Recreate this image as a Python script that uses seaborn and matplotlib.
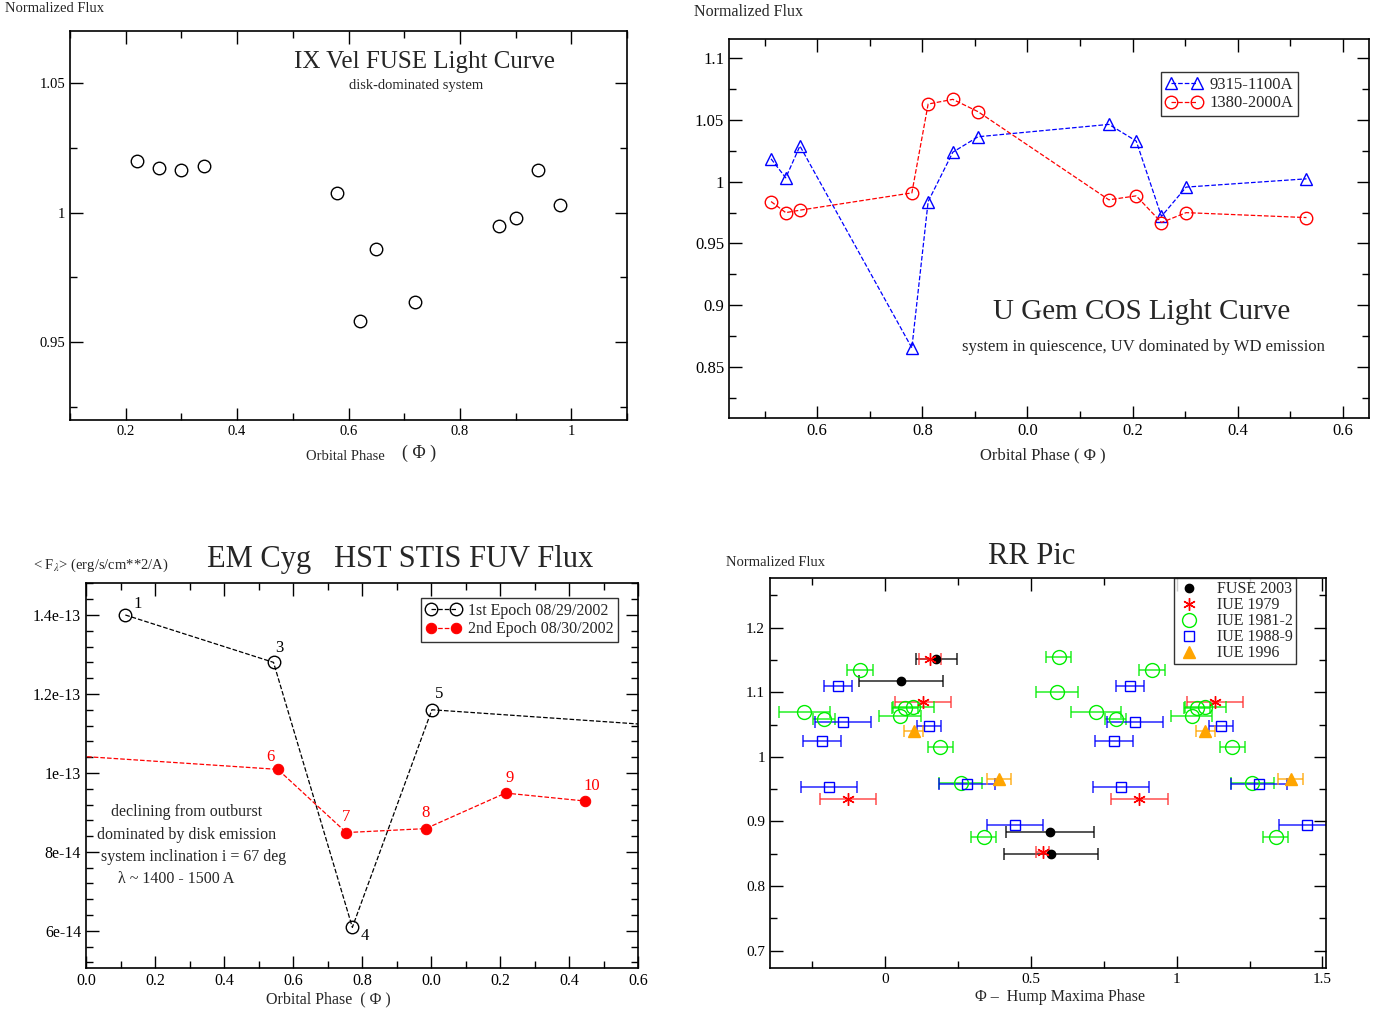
import matplotlib
matplotlib.use("Agg")
import matplotlib.pyplot as plt
from matplotlib.ticker import MultipleLocator, FixedLocator, FormatStrFormatter
import seaborn as sns

# ---------------- data ----------------
# IX Vel FUSE light curve
ixvel_phase = [0.22, 0.26, 0.30, 0.34, 0.58, 0.62, 0.65, 0.72, 0.87, 0.90, 0.94, 0.98]
ixvel_flux = [1.020, 1.017, 1.0165, 1.018, 1.0075, 0.958, 0.986, 0.9655, 0.995, 0.998, 1.0165, 1.003]

# U Gem COS light curve (phase unwrapped past 1.0)
ugem_phase = [0.512, 0.540, 0.567, 0.780, 0.811, 0.858, 0.906, 1.155, 1.207, 1.255, 1.302, 1.531]
ugem_blue = [1.0186, 1.0032, 1.029, 0.8654, 0.984, 1.024, 1.0365, 1.0465, 1.033, 0.972, 0.9957, 1.0024]
ugem_red = [0.984, 0.975, 0.977, 0.991, 1.063, 1.0668, 1.0568, 0.9854, 0.9886, 0.967, 0.975, 0.971]
ugem_ticks = [0.6, 0.8, 1.0, 1.2, 1.4, 1.6]
ugem_ticklabels = ["0.6", "0.8", "0.0", "0.2", "0.4", "0.6"]

# EM Cyg STIS flux
em1_phase = [0.114, 0.5435, 0.772, 1.0026, 1.75]
em1_flux = [1.400e-13, 1.280e-13, 6.09e-14, 1.160e-13, 1.115e-13]
em1_labels = ["1", "3", "4", "5", ""]
em2_phase = [-0.15, 0.556, 0.7545, 0.9847, 1.216, 1.445]
em2_flux = [1.050e-13, 1.009e-13, 8.49e-14, 8.59e-14, 9.49e-14, 9.29e-14]
em2_labels = ["", "6", "7", "8", "9", "10"]
em_ticks = [0.0, 0.2, 0.4, 0.6, 0.8, 1.0, 1.2, 1.4, 1.6]
em_ticklabels = ["0.0", "0.2", "0.4", "0.6", "0.8", "0.0", "0.2", "0.4", "0.6"]

# RR Pic hump maxima
fuse_x = [0.176, 0.057, 0.566, 0.570]
fuse_y = [1.151, 1.117, 0.8835, 0.849]
fuse_err = [0.070, 0.144, 0.150, 0.162]

iue79_x = [0.155, 0.131, -0.127, 0.541, 1.131, 0.873]
iue79_y = [1.151, 1.085, 0.934, 0.852, 1.085, 0.934]
iue79_err = [0.037, 0.096, 0.096, 0.021, 0.096, 0.096]

iue81_x = [-0.084, -0.275, -0.209, 0.069, 0.098, 0.052, 0.191, 0.260, 0.339, 0.596, 0.591,
           0.916, 0.725, 0.791, 1.069, 1.098, 1.052, 1.191, 1.260, 1.339]
iue81_y = [1.135, 1.0697, 1.058, 1.0749, 1.0774, 1.063, 1.0155, 0.9588, 0.876, 1.155, 1.100,
           1.135, 1.0697, 1.058, 1.0749, 1.0774, 1.063, 1.0155, 0.9588, 0.876]
iue81_err = [0.044, 0.086, 0.037, 0.045, 0.070, 0.071, 0.042, 0.074, 0.042, 0.042, 0.072,
             0.044, 0.086, 0.037, 0.045, 0.070, 0.071, 0.042, 0.074, 0.042]

iue88_x = [-0.159, -0.143, -0.214, -0.191, 0.151, 0.282, 0.447,
           0.841, 0.857, 0.786, 0.809, 1.151, 1.282, 1.447]
iue88_y = [1.109, 1.0537, 1.0248, 0.9536, 1.048, 0.958, 0.894,
           1.109, 1.0537, 1.0248, 0.9536, 1.048, 0.958, 0.894]
iue88_err = [0.048, 0.097, 0.065, 0.095, 0.041, 0.095, 0.096,
             0.048, 0.097, 0.065, 0.095, 0.041, 0.095, 0.096]

iue96_x = [0.099, 0.391, 1.099, 1.391]
iue96_y = [1.0398, 0.965, 1.0398, 0.965]
iue96_err = [0.032, 0.042, 0.032, 0.042]

# ---------------- style ----------------
sns.set_theme(style="ticks")
plt.rcParams['font.family'] = ['Liberation Serif', 'DejaVu Serif']
plt.rcParams['mathtext.fontset'] = 'stix'
plt.rcParams['axes.edgecolor'] = 'black'
plt.rcParams['axes.linewidth'] = 1.2
plt.rcParams['xtick.color'] = 'black'
plt.rcParams['ytick.color'] = 'black'

fig = plt.figure(figsize=(13.81, 10.10), dpi=100)
W, H = 1381.0, 1010.0


def add_axes(left, top, right, bottom):
    return fig.add_axes([left / W, 1 - bottom / H, (right - left) / W, (bottom - top) / H])


def style_ticks(ax, size):
    ax.tick_params(which='both', direction='in', top=True, right=True, colors='black',
                   labelsize=size, width=1.0)
    ax.tick_params(which='major', length=9, pad=3.5)
    ax.tick_params(which='minor', length=5)


def legend(ax, anchor, size):
    leg = ax.legend(loc='upper right', bbox_to_anchor=anchor, fontsize=size, frameon=True,
                    fancybox=False, borderpad=0.3, handlelength=2.2, handletextpad=0.4,
                    labelspacing=0.15, numpoints=2, borderaxespad=0)
    leg.get_frame().set_edgecolor('black')
    leg.get_frame().set_linewidth(1.0)
    return leg


# ---------------- panel 1: IX Vel ----------------
ax1 = add_axes(70, 31, 627, 420)
sns.lineplot(x=ixvel_phase, y=ixvel_flux, ax=ax1, estimator=None, sort=False,
             linestyle='', marker='o', ms=9, mfc='none', mec='black', mew=1.0)
ax1.set_xlim(0.1, 1.1)
ax1.set_ylim(0.92, 1.07)
ax1.xaxis.set_major_locator(MultipleLocator(0.2))
ax1.xaxis.set_minor_locator(MultipleLocator(0.1))
ax1.yaxis.set_major_locator(MultipleLocator(0.05))
ax1.yaxis.set_minor_locator(MultipleLocator(0.025))
ax1.xaxis.set_major_formatter(FormatStrFormatter('%g'))
ax1.yaxis.set_major_formatter(FormatStrFormatter('%g'))
style_ticks(ax1, 10.5)
ax1.text(0.637, 0.920, "IX Vel FUSE Light Curve", transform=ax1.transAxes,
         ha='center', va='center', fontsize=18)
ax1.text(0.621, 0.859, "disk-dominated system", transform=ax1.transAxes,
         ha='center', va='center', fontsize=10.5)
fig.text(5 / W, 1 - 8 / H, "Normalized Flux", ha='left', va='center', fontsize=10.5)
fig.text(345 / W, 1 - 456 / H, "Orbital Phase", ha='center', va='center', fontsize=10.5)
fig.text(419 / W, 1 - 453 / H, "( Φ )", ha='center', va='center', fontsize=13)

# ---------------- panel 2: U Gem ----------------
ax2 = add_axes(729, 39, 1369, 418)
sns.lineplot(x=ugem_phase, y=ugem_blue, ax=ax2, estimator=None, sort=False,
             color='blue', linestyle='--', lw=0.9, marker='^', ms=9, mfc='none',
             mec='blue', mew=1.0, label='9315-1100A')
sns.lineplot(x=ugem_phase, y=ugem_red, ax=ax2, estimator=None, sort=False,
             color='red', linestyle='--', lw=0.9, marker='o', ms=9, mfc='none',
             mec='red', mew=1.0, label='1380-2000A')
ax2.set_xlim(0.432, 1.650)
ax2.set_ylim(0.8086, 1.1157)
ax2.xaxis.set_major_locator(FixedLocator(ugem_ticks))
ax2.set_xticklabels(ugem_ticklabels)
ax2.xaxis.set_minor_locator(MultipleLocator(0.1))
ax2.yaxis.set_major_locator(MultipleLocator(0.05))
ax2.yaxis.set_minor_locator(MultipleLocator(0.025))
ax2.yaxis.set_major_formatter(FormatStrFormatter('%g'))
style_ticks(ax2, 12)
legend(ax2, ((1298 - 729) / 640, (418 - 72) / 379), 12)
ax2.text(0.645, 0.280, "U Gem COS Light Curve", transform=ax2.transAxes,
         ha='center', va='center', fontsize=21)
ax2.text(0.647, 0.187, "system in quiescence, UV dominated by WD emission",
         transform=ax2.transAxes, ha='center', va='center', fontsize=12)
fig.text(694 / W, 1 - 12 / H, "Normalized Flux", ha='left', va='center', fontsize=11.5)
fig.text(1043 / W, 1 - 455 / H, "Orbital Phase ( Φ )", ha='center', va='center', fontsize=12)

# ---------------- panel 3: EM Cyg ----------------
ax3 = add_axes(86, 583, 638, 968)
sns.lineplot(x=em1_phase, y=em1_flux, ax=ax3, estimator=None, sort=False,
             color='black', linestyle='--', lw=0.9, marker='o', ms=9, mfc='none',
             mec='black', mew=1.0, label='1st Epoch 08/29/2002')
sns.lineplot(x=em2_phase, y=em2_flux, ax=ax3, estimator=None, sort=False,
             color='red', linestyle='--', lw=0.9, marker='o', ms=7.5, mfc='red',
             mec='red', label='2nd Epoch 08/30/2002')
label_offsets = {"1": (9, 8), "3": (4, 10), "4": (9, -6), "5": (5, 11),
                 "6": (-5, 9), "7": (0, 11), "8": (0, 11), "9": (3, 11), "10": (5, 11)}
for xs, ys, labs, col in [(em1_phase, em1_flux, em1_labels, 'black'),
                          (em2_phase, em2_flux, em2_labels, 'red')]:
    for xv, yv, lab in zip(xs, ys, labs):
        if lab:
            ax3.annotate(lab, (xv, yv), xytext=label_offsets[lab], textcoords='offset points',
                         ha='center', va='center', fontsize=12, color=col)
ax3.set_xlim(0.0, 1.6)
ax3.set_ylim(5.06e-14, 1.481e-13)
ax3.xaxis.set_major_locator(FixedLocator(em_ticks))
ax3.set_xticklabels(em_ticklabels)
ax3.xaxis.set_minor_locator(MultipleLocator(0.1))
ax3.yaxis.set_major_locator(MultipleLocator(2e-14))
ax3.yaxis.set_minor_locator(MultipleLocator(4e-15))
ax3.yaxis.set_major_formatter(FormatStrFormatter('%g'))
style_ticks(ax3, 11.5)
legend(ax3, ((618 - 86) / 552, (968 - 598) / 385), 11.5)
for txt, xa, ya in [("declining from outburst", 0.183, 0.405),
                    ("dominated by disk emission", 0.183, 0.345),
                    ("system inclination i = 67 deg", 0.194, 0.288),
                    ("λ ~ 1400 - 1500 A", 0.163, 0.231)]:
    ax3.text(xa, ya, txt, transform=ax3.transAxes, ha='center', va='center', fontsize=11.5)
fig.text(400 / W, 1 - 560 / H, "EM Cyg   HST STIS FUV Flux", ha='center', va='center',
         fontsize=22)
fig.text(33 / W, 1 - 565 / H, r"< F$_\lambda$> (erg/s/cm**2/A)", ha='left', va='center',
         fontsize=10.5)
fig.text(328 / W, 1 - 999 / H, "Orbital Phase  ( Φ )", ha='center', va='center', fontsize=11.5)

# ---------------- panel 4: RR Pic ----------------
ax4 = add_axes(770, 578, 1326, 968)
series = [
    (fuse_x, fuse_y, fuse_err, 'black', 'o', 6, 'black', 'black', 'FUSE 2003'),
    (iue79_x, iue79_y, iue79_err, '#ff3030', (6, 2, 0), 9, 'red', 'red', 'IUE 1979'),
    (iue81_x, iue81_y, iue81_err, '#00ee00', 'o', 10, 'none', '#00ee00', 'IUE 1981-2'),
    (iue88_x, iue88_y, iue88_err, 'blue', 's', 7.5, 'none', 'blue', 'IUE 1988-9'),
    (iue96_x, iue96_y, iue96_err, 'orange', '^', 8.5, 'orange', 'orange', 'IUE 1996'),
]
for xs, ys, err, col, mk, ms, mfc, mec, lab in series:
    ax4.errorbar(xs, ys, xerr=err, fmt='none', ecolor=col, elinewidth=1.1,
                 capsize=4, capthick=1.1, alpha=0.85)
for xs, ys, err, col, mk, ms, mfc, mec, lab in series:
    sns.lineplot(x=xs, y=ys, ax=ax4, estimator=None, sort=False, linestyle='',
                 marker=mk, ms=ms, mfc=mfc, mec=mec, mew=1.0, label=lab)
ax4.set_xlim(-0.393, 1.512)
ax4.set_ylim(0.673, 1.277)
ax4.xaxis.set_major_locator(MultipleLocator(0.5))
ax4.xaxis.set_minor_locator(MultipleLocator(0.25))
ax4.yaxis.set_major_locator(MultipleLocator(0.1))
ax4.yaxis.set_minor_locator(MultipleLocator(0.05))
ax4.xaxis.set_major_formatter(FormatStrFormatter('%g'))
ax4.yaxis.set_major_formatter(FormatStrFormatter('%g'))
style_ticks(ax4, 11)
leg4 = ax4.legend(loc='upper right', bbox_to_anchor=((1296 - 770) / 556, 1.0), fontsize=11.5,
                  frameon=True, fancybox=False, borderpad=0.2, handlelength=1.5,
                  handletextpad=1.0, labelspacing=0.0, numpoints=1, borderaxespad=0)
leg4.get_frame().set_edgecolor('black')
fig.text(726 / W, 1 - 562 / H, "Normalized Flux", ha='left', va='center', fontsize=10.5)
fig.text(1032 / W, 1 - 557 / H, "RR Pic", ha='center', va='center', fontsize=22)
fig.text(1060 / W, 1 - 997 / H, "Φ –  Hump Maxima Phase", ha='center', va='center',
         fontsize=11.5)

fig.savefig("out.png", dpi=100)
